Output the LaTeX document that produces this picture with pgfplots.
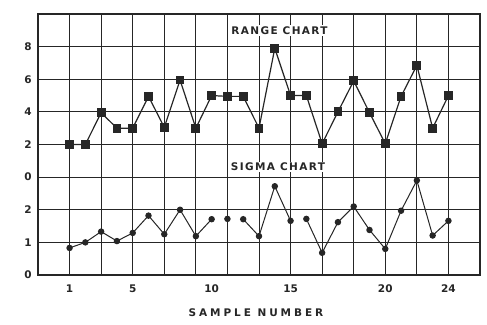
\documentclass[border=0pt]{standalone}
\usepackage{fontspec}
\setmainfont{DejaVu Sans}
\usepackage{pgfplots}
\pgfplotsset{compat=1.18}
\definecolor{ink}{gray}{0.15}
\pgfplotstableread{
x r
1 2.0
2 2.0
3 3.95
4 3.0
5 3.0
6 4.95
7 3.05
8 5.95
9 3.0
10 5.0
11 4.95
12 4.95
13 3.0
14 7.9
15 5.0
16 5.0
17 2.05
18 4.0
19 5.9
20 3.95
21 2.05
22 4.95
23 6.85
24 3.0
25 5.0
}\rangedata
\begin{document}
\begin{tikzpicture}
\useasboundingbox (-38pt,-49pt) rectangle (449pt,275pt);
\begin{axis}[
  scale only axis, width=442pt, height=261pt,
  xmin=-1, xmax=27, ymin=0, ymax=8,
  xtick={1,5,10,15,21,25}, xticklabels={1,5,10,15,20,24},
  minor xtick={1,3,...,25},
  ytick={0,...,7}, yticklabels={0,1,2,0,2,4,6,8},
  xminorgrids=true, ymajorgrids=true, xmajorgrids=false,
  major tick length=0pt, minor tick length=0pt,
  grid style={ink, line width=1pt},
  minor grid style={ink, line width=1pt},
  axis line style={ink, line width=1.3pt},
  tick label style={font=\fontsize{10.5}{10.5}\selectfont\bfseries, text=ink},
  /pgf/number format/assume math mode=true,
  yticklabel style={inner sep=0pt, xshift=-6pt},
  xticklabel style={inner sep=0pt, yshift=-10pt},
  clip=false,
]
\node[fill=white, inner sep=1.5pt, text=ink, font=\fontsize{10.5}{10.5}\selectfont\bfseries] at (axis cs:14.3,7.5) {\addfontfeature{LetterSpace=13}RANGE CHART};
\node[fill=white, inner sep=1.5pt, text=ink, font=\fontsize{10.5}{10.5}\selectfont\bfseries] at (axis cs:14.2,3.31) {\addfontfeature{LetterSpace=13}SIGMA CHART};
\node[text=ink, font=\fontsize{10.5}{10.5}\selectfont\bfseries] at (axis description cs:0.493,-0.146) {\addfontfeature{LetterSpace=28}SAMPLE NUMBER};
\pgfplotsset{sig/.style={ink, line width=1pt, mark=*, mark size=2.7pt, mark options={fill=ink, draw=ink}}}
\addplot[sig] coordinates {(1,0.83) (2,1.0) (3,1.33) (4,1.04) (5,1.29) (6,1.82) (7,1.25) (8,2.0) (9,1.19) (10,1.71)};
\addplot[sig] coordinates {(11,1.72)};
\addplot[sig] coordinates {(12,1.71) (13,1.19) (14,2.72) (15,1.66)};
\addplot[sig] coordinates {(16,1.72) (17,0.68) (18,1.62) (19,2.1) (20,1.38) (21,0.8) (22,1.97) (23,2.9) (24,1.21) (25,1.66)};
\end{axis}
\begin{axis}[
  scale only axis, width=442pt, height=261pt,
  xmin=-1, xmax=27, ymin=-6, ymax=10,
  axis lines=none, clip=false,
]
\addplot[ink, line width=1.2pt, mark=square*, mark size=3.8pt, mark options={fill=ink, draw=ink}] table[x=x, y=r] {\rangedata};
\end{axis}
\end{tikzpicture}
\end{document}
